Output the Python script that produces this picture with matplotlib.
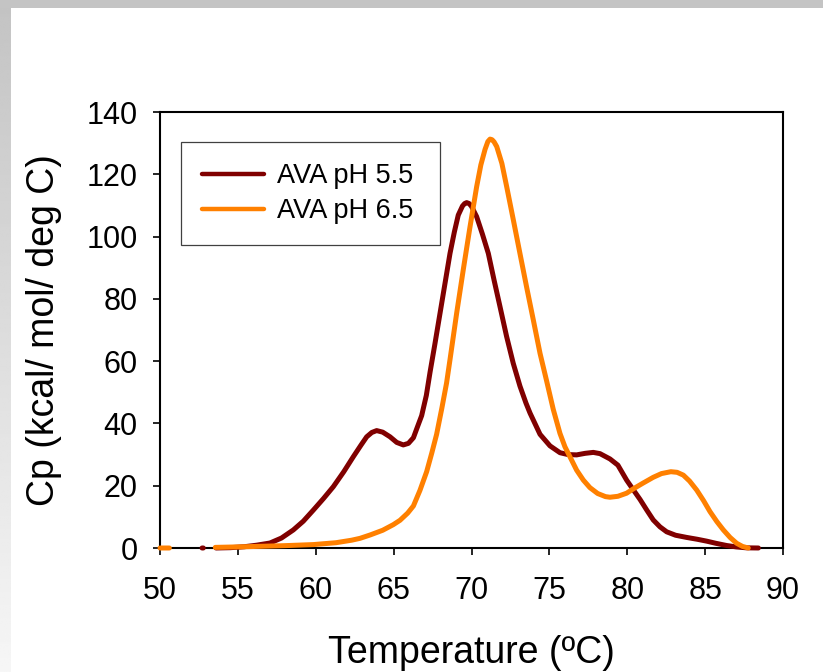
import numpy as np
import matplotlib
matplotlib.use("Agg")
import matplotlib.pyplot as plt

plt.rcParams['font.family'] = ['Liberation Sans', 'DejaVu Sans']

# DSC thermograms: excess heat capacity vs temperature
nan = float('nan')
temp_ph55 = [52.7, 52.78, nan,
             53.6, 54.5, 55.4, 56.2, 57.06, 57.8, 58.56, 59.2, 59.85, 60.5,
             61.13, 61.8, 62.41, 62.9, 63.27, 63.6, 63.91, 64.3, 64.77, 65.2,
             65.62, 65.95, 66.27, 66.5, 66.8, 67.1, 67.34, 67.65, 67.98, 68.3,
             68.62, 68.9, 69.15, 69.42, 69.56, 69.69, 69.85, 70.0, 70.33, 70.7,
             71.08, 71.45, 71.83, 72.25, 72.68, 73.11, 73.5, 73.76, 74.4, 75.04,
             75.68, 76.2, 76.75, 77.3, 77.82, 78.25, 78.89, 79.4, 79.96, 80.4,
             80.82, 81.25, 81.67, 82.1, 82.53, 83.1, 83.81, 84.5, 85.1, 85.7,
             86.38, 87.0, 87.67, 88.42]
cp_ph55 = [0.0, 0.0, nan,
           0.0, 0.1, 0.4, 0.9, 1.6, 3.2, 5.8, 8.6, 12.2, 15.9,
           19.7, 24.5, 29.3, 33.0, 35.7, 37.1, 37.7, 37.2, 35.7, 33.9,
           33.1, 33.6, 35.4, 38.5, 42.5, 49.0, 56.5, 65.5, 75.4, 85.0,
           94.6, 101.5, 106.9, 109.8, 110.6, 110.9, 110.6, 109.7, 106.4, 100.8,
           94.6, 86.0, 77.5, 68.0, 59.3, 52.0, 46.5, 43.3, 36.5, 32.8,
           30.6, 30.0, 29.9, 30.4, 30.7, 30.3, 28.6, 26.6, 21.8, 18.6,
           15.6, 12.2, 9.0, 6.8, 5.2, 4.1, 3.4, 2.8, 2.2, 1.5,
           0.8, 0.35, 0.05, 0.0]

temp_ph65 = [50.0, 50.6, nan,
             53.55, 55.0, 56.5, 58.0, 59.85, 61.3, 62.3, 62.84, 63.5, 64.3,
             64.98, 65.41, 65.9, 66.27, 66.69, 67.12, 67.45, 67.76, 68.1, 68.4,
             68.62, 69.05, 69.47, 69.9, 70.33, 70.6, 70.87, 71.05, 71.19, 71.32,
             71.45, 71.62, 71.95, 72.26, 72.7, 73.11, 73.55, 73.97, 74.4, 74.83,
             75.25, 75.68, 76.0, 76.32, 76.75, 77.18, 77.6, 78.1, 78.6, 78.89,
             79.4, 79.96, 80.39, 81.0, 81.67, 82.2, 82.8, 83.2, 83.6, 84.0,
             84.46, 84.9, 85.31, 85.75, 86.17, 86.6, 87.03, 87.4, 87.77]
cp_ph65 = [0.0, 0.0, nan,
           0.2, 0.35, 0.55, 0.75, 1.1, 1.7, 2.5, 3.1, 4.2, 5.7,
           7.5, 8.9, 11.2, 13.5, 18.5, 24.5, 30.5, 36.5, 45.0, 53.0,
           60.5, 75.5, 89.3, 103.0, 116.0, 123.0, 128.0, 130.5, 131.3, 131.1,
           130.4, 128.9, 123.5, 116.0, 105.0, 94.6, 83.5, 73.2, 62.5, 53.5,
           44.5, 36.8, 32.5, 29.3, 25.0, 21.8, 19.4, 17.5, 16.5, 16.3,
           16.6, 17.6, 19.0, 20.8, 22.7, 23.9, 24.5, 24.3, 23.4, 21.5,
           18.6, 15.2, 11.7, 8.5, 5.8, 3.4, 1.5, 0.5, 0.0]

labels = ['AVA pH 5.5', 'AVA pH 6.5']
colors = ['#800000', '#ff8000']
x_ticks = [50, 55, 60, 65, 70, 75, 80, 85, 90]
y_ticks = [0, 20, 40, 60, 80, 100, 120, 140]

W, H = 823, 672
fig = plt.figure(figsize=(W / 100, H / 100), dpi=100)

# slide-style frame: grey strip on top, fading grey strip on the left
bg = fig.add_axes([0, 0, 1, 1], zorder=-10)
bg.set_xlim(0, W)
bg.set_ylim(H, 0)
bg.axis('off')
grad = np.linspace(0.765, 0.965, 256).reshape(-1, 1)
bg.imshow(grad, cmap='gray', vmin=0, vmax=1, extent=[0, 11, H, 0],
          aspect='auto', interpolation='bilinear')
bg.add_patch(plt.Rectangle((0, 0), W, 7.5, color='#c4c4c4', lw=0))

ax = fig.add_axes([160 / W, 1 - 548 / H, 623 / W, 436 / H])
ax.plot(temp_ph55, cp_ph55, color=colors[0], lw=3.6, label=labels[0],
        solid_capstyle='round', solid_joinstyle='round', clip_on=False, zorder=3)
ax.plot(temp_ph65, cp_ph65, color=colors[1], lw=3.6, label=labels[1],
        solid_capstyle='round', solid_joinstyle='round', clip_on=False, zorder=4)

ax.set_xlim(50, 90)
ax.set_ylim(0, 140)
ax.set_xticks(x_ticks)
ax.set_yticks(y_ticks)
for s in ax.spines.values():
    s.set_linewidth(1.5)
ax.tick_params(axis='x', direction='out', length=5, width=1.2, pad=15, labelsize=22)
ax.tick_params(axis='y', direction='out', length=5, width=1.2, pad=11, labelsize=22)

ax.set_xlabel('Temperature (ºC)', fontsize=27)
ax.xaxis.set_label_coords(0.5, -0.2)
ax.set_ylabel('Cp (kcal/ mol/ deg C)', fontsize=27)
ax.yaxis.set_label_coords(-0.157, 0.5)

leg = ax.legend(loc='upper left', bbox_to_anchor=(0.0337, 0.3, 0.4157, 0.631),
                mode='expand', borderaxespad=0, fontsize=19.5, handlelength=2.3,
                handletextpad=0.45, labelspacing=0.33, borderpad=0.78,
                fancybox=False, framealpha=1, edgecolor='#404040')
leg.get_frame().set_linewidth(0.9)
for line in leg.get_lines():
    line.set_linewidth(3.2)

fig.savefig('out.png', dpi=100)
